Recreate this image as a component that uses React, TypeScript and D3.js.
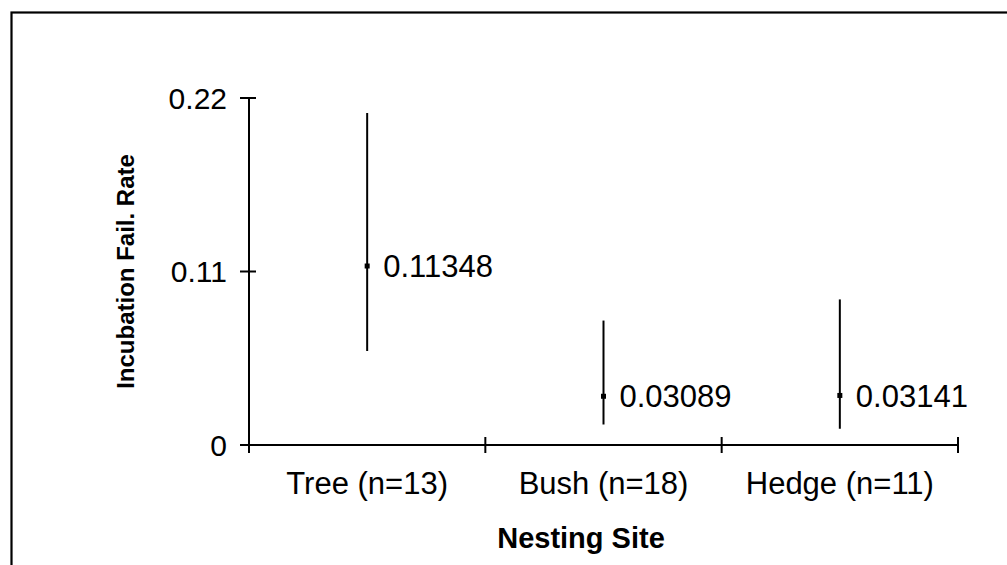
import * as d3 from 'd3';

const categories = ['Tree (n=13)', 'Bush (n=18)', 'Hedge (n=11)'];
const means = [0.11348, 0.03089, 0.03141];
const lows = [0.0596, 0.013, 0.0103];
const highs = [0.2105, 0.0789, 0.0923];
const yTicks = [0, 0.11, 0.22];
const yTickLabels = ['0', '0.11', '0.22'];

const W = 1007;
const H = 565;
const PLOT = { left: 249, right: 958, top: 98, bottom: 445 };
const FONT = '"Liberation Sans", Arial, Helvetica, sans-serif';

export default function App() {
  const x = d3.scaleBand<string>().domain(categories).range([PLOT.left, PLOT.right]).padding(0);
  const y = d3.scaleLinear().domain([0, 0.22]).range([PLOT.bottom, PLOT.top]);

  // band boundaries for the x ticks
  const xTickPos = [...categories.map((c) => x(c) as number), PLOT.right];

  return (
    <div style={{ position: 'absolute', left: 0, top: 0, width: W, height: H, background: '#fff' }}>
      <svg width={W} height={H} style={{ display: 'block' }} fontFamily={FONT}>
        <rect x={0} y={0} width={W} height={H} fill="#fff" />
        {/* outer frame, runs off right and bottom */}
        <rect x={11.5} y={12.5} width={W + 50} height={H + 50} fill="none" stroke="#000" strokeWidth={2.2} />

        {/* y axis */}
        <line x1={PLOT.left} x2={PLOT.left} y1={y(0.22)} y2={y(0)} stroke="#000" strokeWidth={2} />
        {yTicks.map((t, i) => (
          <g key={t}>
            <line x1={PLOT.left - 9} x2={PLOT.left + 7} y1={y(t)} y2={y(t)} stroke="#000" strokeWidth={2} />
            <text x={PLOT.left - 22} y={y(t)} dy="0.36em" textAnchor="end" fontSize={30} fill="#000">
              {yTickLabels[i]}
            </text>
          </g>
        ))}

        {/* x axis */}
        <line x1={PLOT.left} x2={PLOT.right} y1={y(0)} y2={y(0)} stroke="#000" strokeWidth={2} />
        {xTickPos.map((p) => (
          <line key={p} x1={p} x2={p} y1={y(0) - 8} y2={y(0) + 8} stroke="#000" strokeWidth={2} />
        ))}
        {categories.map((c) => (
          <text key={c} x={(x(c) as number) + x.bandwidth() / 2} y={494} textAnchor="middle" fontSize={31} fill="#000">
            {c}
          </text>
        ))}

        {/* error bars with mean marks */}
        {categories.map((c, i) => {
          const cx = (x(c) as number) + x.bandwidth() / 2;
          return (
            <g key={c}>
              <line x1={cx} x2={cx} y1={y(highs[i])} y2={y(lows[i])} stroke="#000" strokeWidth={2} />
              <rect x={cx - 2.5} y={y(means[i]) - 2.5} width={5} height={5} fill="#000" />
              <text x={cx + 16} y={y(means[i])} dy="0.36em" fontSize={31} fill="#000">
                {means[i].toFixed(5)}
              </text>
            </g>
          );
        })}

        {/* axis titles */}
        <text x={581} y={548} textAnchor="middle" fontSize={29} fontWeight="bold" fill="#000">
          Nesting Site
        </text>
        <text
          transform={`translate(134,${(PLOT.top + PLOT.bottom) / 2}) rotate(-90)`}
          textAnchor="middle"
          fontSize={24}
          fontWeight="bold"
          fill="#000"
        >
          Incubation Fail. Rate
        </text>
      </svg>
    </div>
  );
}
